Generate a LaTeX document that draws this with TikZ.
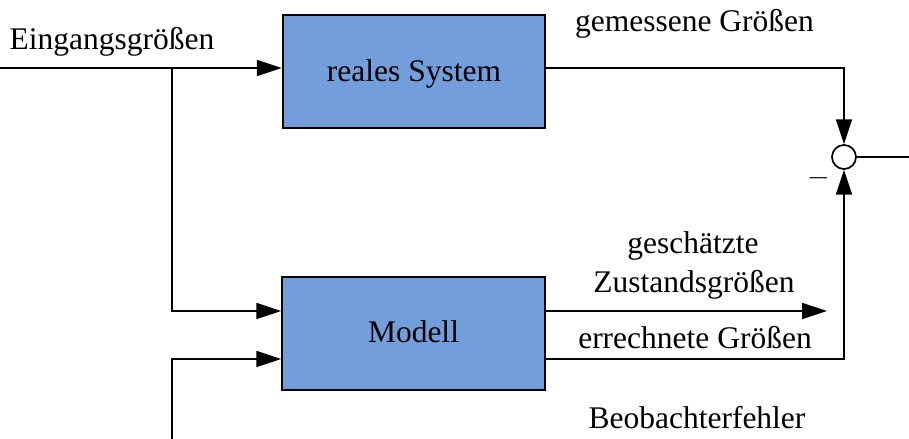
\documentclass[tikz,border=0pt]{standalone}
\usepackage{fontspec}
\setmainfont{Liberation Serif}
\usetikzlibrary{arrows.meta}
\definecolor{blockblue}{RGB}{114,158,219}
\tikzset{
	block/.style={draw, line width=1.4pt, fill=blockblue, minimum width=6.56cm, minimum height=2.83cm, inner sep=0pt},
	sumpoint/.style={draw, circle, line width=1.2pt, minimum size=0.6cm, inner sep=0pt},
	sig/.style={line width=1.2pt},
	arr/.style={sig, -{Triangle[length=0.62cm, width=0.4cm]}},
	lbl/.style={anchor=base, inner sep=0pt}
}
\begin{document}
\begin{tikzpicture}[x=0.025cm, y=-0.025cm, font=\fontsize{22.4pt}{27pt}\selectfont]
		\useasboundingbox (0,0) rectangle (909,439);
		
		%Blocks
		\node[block] (sys) at (414,71.5) {};
		\node[lbl] (systxt) at (414,82) {reales System};
		\node[block] (mod) at (413.5,333.5) {};
		\node[lbl] (modtxt) at (413.5,342) {Modell};
		\node[sumpoint] (sum) at (844,157) {};
		
		%Help coordinates
		\coordinate (in) at (0,68);
		\coordinate (br) at (172,68);
		\coordinate (fb) at (172,439);
		\coordinate (y1) at (0,311);
		\coordinate (y2) at (0,359);
		\coordinate (est) at (827,311);
		\coordinate (out) at (909,157);
		
		%Connections
		\draw[arr] (in) -- (sys.west |- in);
		\draw[arr] (br) |- (mod.west |- y1);
		\draw[arr] (fb) |- (mod.west |- y2);
		\draw[arr] (sys.east |- in) -| (sum.north);
		\draw[sig] (sum.east) -- (out);
		\draw[arr] (mod.east |- y1) -- (est);
		\draw[arr] (mod.east |- y2) -| (sum.south);
		
		%Labels
		\node[lbl] (inlbl) at (112,50) {Eingangsgrößen};
		\node[lbl] (meslbl) at (694.5,32) {gemessene Größen};
		\node[lbl] (estlbl1) at (693,253) {geschätzte};
		\node[lbl] (estlbl2) at (694,292) {Zustandsgrößen};
		\node[lbl] (cmplbl) at (695,349) {errechnete Größen};
		\node[lbl] (errlbl) at (697,428) {Beobachterfehler};
		\node[lbl] (minus) at (819,186) {$-$};
		
	\end{tikzpicture}
\end{document}
